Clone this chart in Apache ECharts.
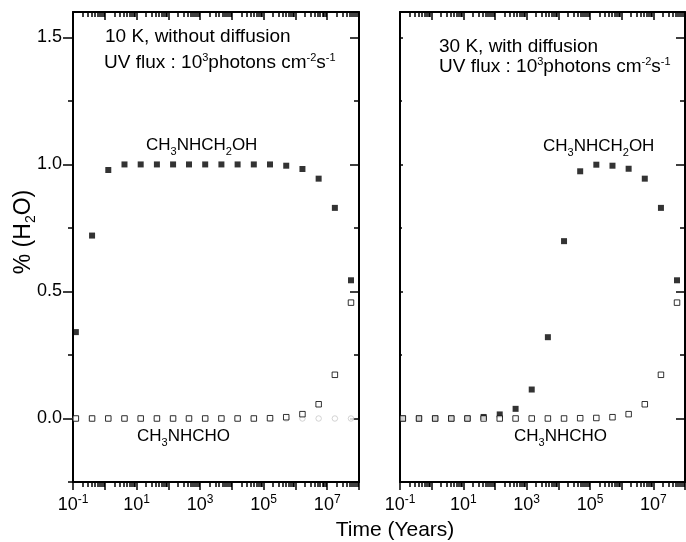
<!DOCTYPE html>
<html><head><meta charset="utf-8">
<script src="https://cdn.jsdelivr.net/npm/echarts@6/dist/echarts.min.js"></script>
<style>html,body{margin:0;padding:0;background:#fff}#c{width:686px;height:542px}</style>
</head><body><div id="c"></div>
<script>
// Time (years) of each model output
const times = [0.123, 0.398, 1.29, 4.17, 13.5, 43.7, 141, 447, 1445, 4677, 15136, 48978, 158489, 512861, 1.66e6, 5.37e6, 1.74e7, 5.6e7];
// Left panel: 10 K, without diffusion
const leftCH3NHCH2OH = [0.34, 0.72, 0.978, 1.0, 1.0, 1.0, 1.0, 1.0, 1.0, 1.0, 1.0, 1.0, 1.0, 0.995, 0.982, 0.944, 0.829, 0.544];
const leftCH3NHCHO   = [0, 0, 0, 0, 0, 0, 0, 0, 0, 0, 0, 0, 0.001, 0.005, 0.017, 0.056, 0.172, 0.456];
const leftOther      = [0, 0, 0, 0, 0, 0, 0, 0, 0, 0, 0, 0, 0, 0, 0, 0, 0, 0];
// Right panel: 30 K, with diffusion
const rightCH3NHCH2OH = [0, 0, 0, 0, 0, 0.006, 0.016, 0.038, 0.114, 0.32, 0.698, 0.973, 0.999, 0.995, 0.983, 0.944, 0.829, 0.544];
const rightCH3NHCHO   = [0, 0, 0, 0, 0, 0, 0, 0, 0, 0, 0, 0.001, 0.002, 0.005, 0.017, 0.056, 0.172, 0.456];
// Axis ticks
const xMajorTicks = [0.1, 1, 10, 100, 1e3, 1e4, 1e5, 1e6, 1e7, 1e8];
const xLabelTicks = [0.1, 10, 1e3, 1e5, 1e7];
const yMajorTicks = [0, 0.5, 1.0, 1.5];
const yMinorTicks = [-0.25, 0.25, 0.75, 1.25];
const xMinorTicks = [];
for (let e = -1; e < 8; e++) for (let k = 2; k <= 9; k++) xMinorTicks.push(+(k * Math.pow(10, e)).toPrecision(3));

const FONT = "'Liberation Sans', Arial, Helvetica, sans-serif";
const BLACK = '#000';

function xAxes(gi) {
  const base = {gridIndex: gi, type: 'log', logBase: 10, min: 0.1, max: 1e8,
    splitLine: {show: false}, minorTick: {show: false}, minorSplitLine: {show: false},
    axisLine: {show: true, onZero: false, lineStyle: {color: BLACK, width: 2}}};
  const tickStyle = {color: BLACK, width: 1.5};
  return [
    Object.assign({}, base, {position: 'bottom',
      axisTick: {show: true, inside: false, length: 8, lineStyle: tickStyle, customValues: xMajorTicks},
      axisLabel: {show: true, customValues: xLabelTicks, margin: 12, color: BLACK,
        formatter: v => '{b|10}{s|' + Math.round(Math.log10(v)) + '}',
        rich: {b: {fontSize: 18, fontFamily: FONT, color: BLACK, lineHeight: 22},
               s: {fontSize: 12, fontFamily: FONT, color: BLACK, lineHeight: 22, padding: [0, 0, 11, 0]}}}}),
    Object.assign({}, base, {position: 'bottom', axisLine: {show: false, onZero: false},
      axisTick: {show: true, inside: false, length: 5, lineStyle: tickStyle, customValues: xMinorTicks},
      axisLabel: {show: false}}),
    Object.assign({}, base, {position: 'top',
      axisTick: {show: true, inside: true, length: 8, lineStyle: tickStyle, customValues: xMajorTicks},
      axisLabel: {show: false}}),
    Object.assign({}, base, {position: 'top', axisLine: {show: false, onZero: false},
      axisTick: {show: true, inside: true, length: 5, lineStyle: tickStyle, customValues: xMinorTicks},
      axisLabel: {show: false}})
  ];
}
function yAxes(gi, showLabels, leftInside, leftLen) {
  const base = {gridIndex: gi, type: 'value', min: -0.25, max: 1.6,
    splitLine: {show: false},
    axisLine: {show: true, onZero: false, lineStyle: {color: BLACK, width: 2}}};
  const tickStyle = {color: BLACK, width: 1.5};
  return [
    Object.assign({}, base, {position: 'left',
      axisTick: {show: true, inside: leftInside, length: leftLen, lineStyle: tickStyle, customValues: yMajorTicks},
      axisLabel: {show: showLabels, customValues: yMajorTicks, margin: 11, color: BLACK, fontSize: 18, fontFamily: FONT,
        formatter: v => v.toFixed(1)}}),
    Object.assign({}, base, {position: 'left', axisLine: {show: false, onZero: false},
      axisTick: {show: true, inside: leftInside, length: Math.max(2, leftLen / 2), lineStyle: tickStyle, customValues: yMinorTicks},
      axisLabel: {show: false}}),
    Object.assign({}, base, {position: 'right',
      axisTick: {show: true, inside: true, length: 9, lineStyle: tickStyle, customValues: yMajorTicks},
      axisLabel: {show: false}}),
    Object.assign({}, base, {position: 'right', axisLine: {show: false, onZero: false},
      axisTick: {show: true, inside: true, length: 5, lineStyle: tickStyle, customValues: yMinorTicks},
      axisLabel: {show: false}})
  ];
}
const pairs = arr => times.map((t, i) => [t, arr[i]]);
function sc(name, axis, data, kind) {
  const s = {name, type: 'scatter', xAxisIndex: axis, yAxisIndex: axis, data: pairs(data),
    animation: false, emphasis: {disabled: true}, silent: true, clip: false};
  if (kind === 'filled') { s.symbol = 'rect'; s.symbolSize = 6; s.itemStyle = {color: BLACK}; s.z = 3; }
  if (kind === 'open') { s.symbol = 'rect'; s.symbolSize = 5.5; s.itemStyle = {color: '#fff', borderColor: BLACK, borderWidth: 1}; s.z = 4; }
  if (kind === 'circle') { s.symbol = 'circle'; s.symbolSize = 5.5; s.itemStyle = {color: '#fff', borderColor: '#c8c8c8', borderWidth: 1}; s.z = 2; }
  return s;
}
const main = {fontSize: 19, fontFamily: FONT, fill: BLACK, lineHeight: 22};
const sup = {fontSize: 11, fontFamily: FONT, fill: BLACK, lineHeight: 22, padding: [0, 0, 11, 0]};
const sub = {fontSize: 12, fontFamily: FONT, fill: BLACK, lineHeight: 22, padding: [14, 0, 0, 0]};
const lab = {fontSize: 17, fontFamily: FONT, fill: BLACK, lineHeight: 22};
const labSub = {fontSize: 11, fontFamily: FONT, fill: BLACK, lineHeight: 22, padding: [13, 0, 0, 0]};
function txt(x, y, text, rich, extra) {
  return Object.assign({type: 'text', x, y, silent: true, z: 100,
    style: {text, rich, fill: BLACK, fontFamily: FONT, fontSize: 19, align: 'left', verticalAlign: 'middle'}}, extra || {});
}
const uv = '{m|UV flux : 10}{p|3}{m|photons cm}{p|-2}{m|s}{p|-1}';
const richMain = {m: main, p: sup, b: sub};
const richLab = {m: lab, b: labSub};
const richTime = {m: {fontSize: 21, fontFamily: FONT, fill: BLACK, lineHeight: 24}};

const option = {
  backgroundColor: '#fff',
  animation: false,
  grid: [
    {left: 73, top: 12, width: 286, bottom: 60, outerBoundsMode: 'none', containLabel: false},
    {left: 400, top: 12, width: 285, bottom: 60, outerBoundsMode: 'none', containLabel: false}
  ],
  xAxis: xAxes(0).concat(xAxes(1)),
  yAxis: yAxes(0, true, false, 10).concat(yAxes(1, false, true, 3)),
  series: [
    sc('other', 0, leftOther, 'circle'),
    sc('CH3NHCH2OH', 0, leftCH3NHCH2OH, 'filled'),
    sc('CH3NHCHO', 0, leftCH3NHCHO, 'open'),
    sc('CH3NHCH2OH', 4, rightCH3NHCH2OH, 'filled'),
    sc('CH3NHCHO', 4, rightCH3NHCHO, 'open')
  ],
  graphic: [
    txt(105, 37, '{m|10 K, without diffusion}', richMain),
    txt(104, 63, uv, richMain),
    txt(439, 47, '{m|30 K, with diffusion}', richMain),
    txt(439, 67, uv, richMain),
    txt(146, 145, '{m|CH}{b|3}{m|NHCH}{b|2}{m|OH}', richLab),
    txt(543, 146, '{m|CH}{b|3}{m|NHCH}{b|2}{m|OH}', richLab),
    txt(137, 436, '{m|CH}{b|3}{m|NHCHO}', richLab),
    txt(514, 436, '{m|CH}{b|3}{m|NHCHO}', richLab),
    txt(395, 530, '{m|Time (Years)}', null, {style: {text: '{m|Time (Years)}', rich: richTime, align: 'center', verticalAlign: 'middle', fill: BLACK}}),
    txt(24, 232, '{y|% (H}{ys|2}{y|O)}', null, {rotation: Math.PI / 2,
      style: {text: '{y|% (H}{ys|2}{y|O)}', align: 'center', verticalAlign: 'middle', fill: BLACK,
        rich: {y: {fontSize: 23, fontFamily: FONT, fill: BLACK, lineHeight: 26},
               ys: {fontSize: 14, fontFamily: FONT, fill: BLACK, lineHeight: 26, padding: [15, 0, 0, 0]}}}})
  ]
};
const chart = echarts.init(document.getElementById('c'), null, {renderer: 'canvas'});
chart.setOption(option);
</script>
</body></html>
